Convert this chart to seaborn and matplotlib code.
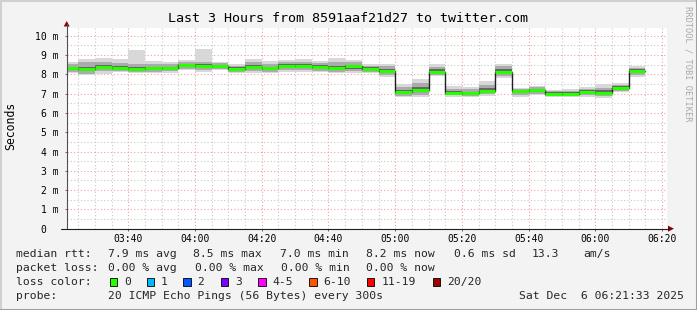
import matplotlib
matplotlib.use("Agg")
import numpy as np
import pandas as pd
import seaborn as sns
import matplotlib.pyplot as plt
from matplotlib.patches import Rectangle, Polygon
from matplotlib.lines import Line2D
from matplotlib.ticker import FixedLocator, MultipleLocator

# ---------------- data ----------------
title = "Last 3 Hours from 8591aaf21d27 to twitter.com"
start_time = "03:21:33"
end_time = "06:21:33"
first_step_end = "03:25"
step_minutes = 5

median = [8.31, 8.30, 8.40, 8.35, 8.27, 8.31, 8.31, 8.48, 8.43, 8.43,
          8.30, 8.40, 8.31, 8.45, 8.45, 8.38, 8.35, 8.41, 8.29, 8.19,
          7.08, 7.19, 8.13, 7.05, 7.02, 7.15, 8.14, 7.15, 7.19, 7.00,
          7.00, 7.10, 7.05, 7.31, 8.17]
smoke_lo = [8.05, 7.95, 8.02, 8.12, 8.05, 8.05, 8.08, 8.20, 8.12, 8.22,
            8.05, 8.08, 8.05, 8.12, 8.10, 8.10, 8.05, 8.05, 8.05, 7.85,
            6.80, 6.85, 7.90, 6.85, 6.82, 6.88, 7.80, 6.85, 6.92, 6.80,
            6.82, 6.82, 6.76, 7.08, 7.88]
smoke_hi = [8.65, 8.78, 8.85, 8.78, 9.28, 8.68, 8.62, 8.75, 9.33, 8.62,
            8.52, 8.78, 8.70, 8.75, 8.80, 8.70, 8.82, 8.72, 8.55, 8.55,
            7.50, 7.74, 8.53, 7.40, 7.35, 7.65, 8.52, 7.30, 7.40, 7.20,
            7.22, 7.35, 7.48, 7.55, 8.43]
mid_lo = [8.12, 8.02, 8.15, 8.18, 8.10, 8.12, 8.15, 8.28, 8.22, 8.28,
          8.12, 8.15, 8.12, 8.22, 8.20, 8.18, 8.12, 8.15, 8.12, 7.95,
          6.90, 6.95, 7.98, 6.92, 6.90, 6.98, 7.90, 6.95, 7.00, 6.88,
          6.90, 6.92, 6.88, 7.15, 7.98]
mid_hi = [8.55, 8.62, 8.65, 8.58, 8.55, 8.55, 8.52, 8.65, 8.62, 8.58,
          8.45, 8.62, 8.55, 8.62, 8.65, 8.58, 8.62, 8.62, 8.45, 8.45,
          7.35, 7.55, 8.40, 7.25, 7.22, 7.45, 8.42, 7.25, 7.32, 7.12,
          7.12, 7.25, 7.30, 7.45, 8.35]
core_lo = [8.24, 8.15, 8.30, 8.27, 8.20, 8.24, 8.24, 8.40, 8.33, 8.36,
           8.22, 8.30, 8.22, 8.36, 8.36, 8.28, 8.26, 8.30, 8.22, 8.08,
           6.98, 7.08, 8.05, 6.98, 6.95, 7.06, 8.05, 7.06, 7.10, 6.93,
           6.94, 7.02, 6.96, 7.22, 8.08]
core_hi = [8.40, 8.40, 8.48, 8.43, 8.38, 8.40, 8.38, 8.55, 8.52, 8.50,
           8.36, 8.48, 8.40, 8.53, 8.55, 8.46, 8.44, 8.50, 8.36, 8.30,
           7.20, 7.35, 8.25, 7.14, 7.10, 7.28, 8.28, 7.20, 7.25, 7.06,
           7.06, 7.18, 7.18, 7.38, 8.28]

x_tick_labels = ["03:40", "04:00", "04:20", "04:40", "05:00",
                 "05:20", "05:40", "06:00", "06:20"]
y_ticks = [0, 1, 2, 3, 4, 5, 6, 7, 8, 9, 10]
y_tick_labels = ["0  ", "1 m", "2 m", "3 m", "4 m", "5 m", "6 m",
                 "7 m", "8 m", "9 m", "10 m"]
y_max = 10.4

rtt_stats = ["7.9 ms avg", "8.5 ms max", "7.0 ms min", "8.2 ms now",
             "0.6 ms sd", "13.3", "am/s"]
loss_stats = ["0.00 % avg", "0.00 % max", "0.00 % min", "0.00 % now"]
loss_labels = ["0", "1", "2", "3", "4-5", "6-10", "11-19", "20/20"]
loss_colors = ["#26ff00", "#00b8ff", "#0059ff", "#7e00ff", "#ff00ff",
               "#ff5500", "#ff0000", "#a10000"]
probe_text = "20 ICMP Echo Pings (56 Bytes) every 300s"
date_text = "Sat Dec  6 06:21:33 2025"
watermark = "RRDTOOL / TOBI OETIKER"


def tmin(s):
    p = [int(v) for v in s.split(":")]
    while len(p) < 3:
        p.append(0)
    return p[0] * 60 + p[1] + p[2] / 60.0


# ---------------- figure ----------------
W, H = 697, 310
sns.set_theme(style="white")
plt.rcParams["font.family"] = ["DejaVu Sans Mono", "DejaVu Sans"]

fig = plt.figure(figsize=(W / 100, H / 100), dpi=100, facecolor="#f3f3f3")


def fx(x):
    return x / W


def fy(y):
    return 1 - y / H


L, R, T, B = 66.7, 667.3, 28.0, 228.7
ax = fig.add_axes([fx(L), fy(B), fx(R) - fx(L), fy(T) - fy(B)])
ax.set_facecolor("white")

n = len(median)
edges = [tmin(start_time)] + [tmin(first_step_end) + step_minutes * i for i in range(n)]
edges = np.array(edges)


def ext(v):
    return list(v) + [v[-1]]


ax.fill_between(edges, ext(smoke_lo), ext(smoke_hi), step="post",
                color="#d8d8d8", lw=0, zorder=2)
ax.fill_between(edges, ext(mid_lo), ext(mid_hi), step="post",
                color="#ababab", lw=0, zorder=3)
ax.fill_between(edges, ext(core_lo), ext(core_hi), step="post",
                color="#666666", lw=0, zorder=4)

df = pd.DataFrame({"t": edges, "median": ext(median)})
sns.lineplot(data=df, x="t", y="median", drawstyle="steps-post",
             color="#202020", lw=1.0, ax=ax, zorder=5)
ax.hlines(median, edges[:-1], edges[1:], color=loss_colors[0], lw=2.2, zorder=6)

ax.set_xlim(tmin(start_time), tmin(end_time))
ax.set_ylim(0, y_max)

xt = [tmin(s) for s in x_tick_labels]
ax.xaxis.set_major_locator(FixedLocator(xt))
ax.set_xticklabels(x_tick_labels)
ax.xaxis.set_minor_locator(MultipleLocator(step_minutes))
ax.set_yticks(y_ticks)
ax.set_yticklabels(y_tick_labels)
ax.yaxis.set_minor_locator(MultipleLocator(0.5))

ax.grid(which="major", color="#f0a0a0", ls=(0, (1, 2)), lw=0.8, zorder=1)
ax.grid(which="minor", color="#c8c8c8", ls=(0, (1, 2)), lw=0.8, zorder=1)
ax.set_axisbelow(True)

ax.tick_params(axis="both", which="major", length=1.5, width=0.7,
               color="#666666", labelsize=7, labelcolor="black")
ax.tick_params(axis="y", which="major", pad=4.5, direction="out", left=True)
ax.tick_params(axis="x", which="major", pad=2.5, direction="out", bottom=True)
ax.tick_params(which="minor", length=0)
for s in ax.spines.values():
    s.set_visible(False)
ax.set_xlabel("")
ax.set_ylabel("")

# axis lines and arrows
fig.add_artist(Line2D([fx(L), fx(L)], [fy(B), fy(24)], color="#505050", lw=0.8))
fig.add_artist(Line2D([fx(61), fx(669)], [fy(B), fy(B)], color="#202020", lw=0.8))
fig.add_artist(Polygon([[fx(L), fy(21)], [fx(L - 3), fy(26.5)], [fx(L + 3), fy(26.5)]],
                       closed=True, color="#8b0000", lw=0))
fig.add_artist(Polygon([[fx(674), fy(B)], [fx(668), fy(B - 3)], [fx(668), fy(B + 3)]],
                       closed=True, color="#8b0000", lw=0))

# titles
fig.text(0.5, fy(19), title, ha="center", va="center", fontsize=9.6, color="black")
fig.text(fx(11), fy(126), "Seconds", rotation=90, ha="center", va="center",
         fontsize=8.3, color="black")
fig.text(fx(688), fy(6), watermark, rotation=270, ha="center", va="top",
         fontsize=6.2, color="#a8a8a8")

# legend
fs = 8.2
rows = [254, 268, 282, 296]
fig.text(fx(16), fy(rows[0]), "median rtt:", ha="left", va="center", fontsize=fs)
for xp, s in zip([107.7, 193, 280, 365.5, 453.5, 531.7, 583], rtt_stats):
    fig.text(fx(xp), fy(rows[0]), s, ha="left", va="center", fontsize=fs)
fig.text(fx(16), fy(rows[1]), "packet loss:", ha="left", va="center", fontsize=fs)
for xp, s in zip([107.7, 195, 280.6, 366], loss_stats):
    fig.text(fx(xp), fy(rows[1]), s, ha="left", va="center", fontsize=fs)
fig.text(fx(16), fy(rows[2]), "loss color:", ha="left", va="center", fontsize=fs)
for xp, lab, col in zip([109.5, 146.5, 183, 220.5, 258, 309, 367, 432.5],
                        loss_labels, loss_colors):
    fig.add_artist(Rectangle((fx(xp), fy(286)), fx(7.5), 7.7 / H,
                             facecolor=col, edgecolor="black", lw=0.6))
    fig.text(fx(xp + 14.5), fy(rows[2]), lab, ha="left", va="center", fontsize=fs)
fig.text(fx(16), fy(rows[3]), "probe:", ha="left", va="center", fontsize=fs)
fig.text(fx(107.7), fy(rows[3]), probe_text, ha="left", va="center", fontsize=fs)
fig.text(fx(683.6), fy(rows[3]), date_text, ha="right", va="center", fontsize=fs)

# frame
fig.add_artist(Line2D([0, 1], [fy(0.5), fy(0.5)], color="#d0d0d0", lw=1.5))
fig.add_artist(Line2D([fx(0.5), fx(0.5)], [0, 1], color="#d0d0d0", lw=1.5))
fig.add_artist(Line2D([0, 1], [fy(H - 0.5), fy(H - 0.5)], color="#a0a0a0", lw=1.5))
fig.add_artist(Line2D([fx(W - 0.5), fx(W - 0.5)], [0, 1], color="#a0a0a0", lw=1.5))

fig.savefig("out.png", dpi=100, facecolor=fig.get_facecolor())
